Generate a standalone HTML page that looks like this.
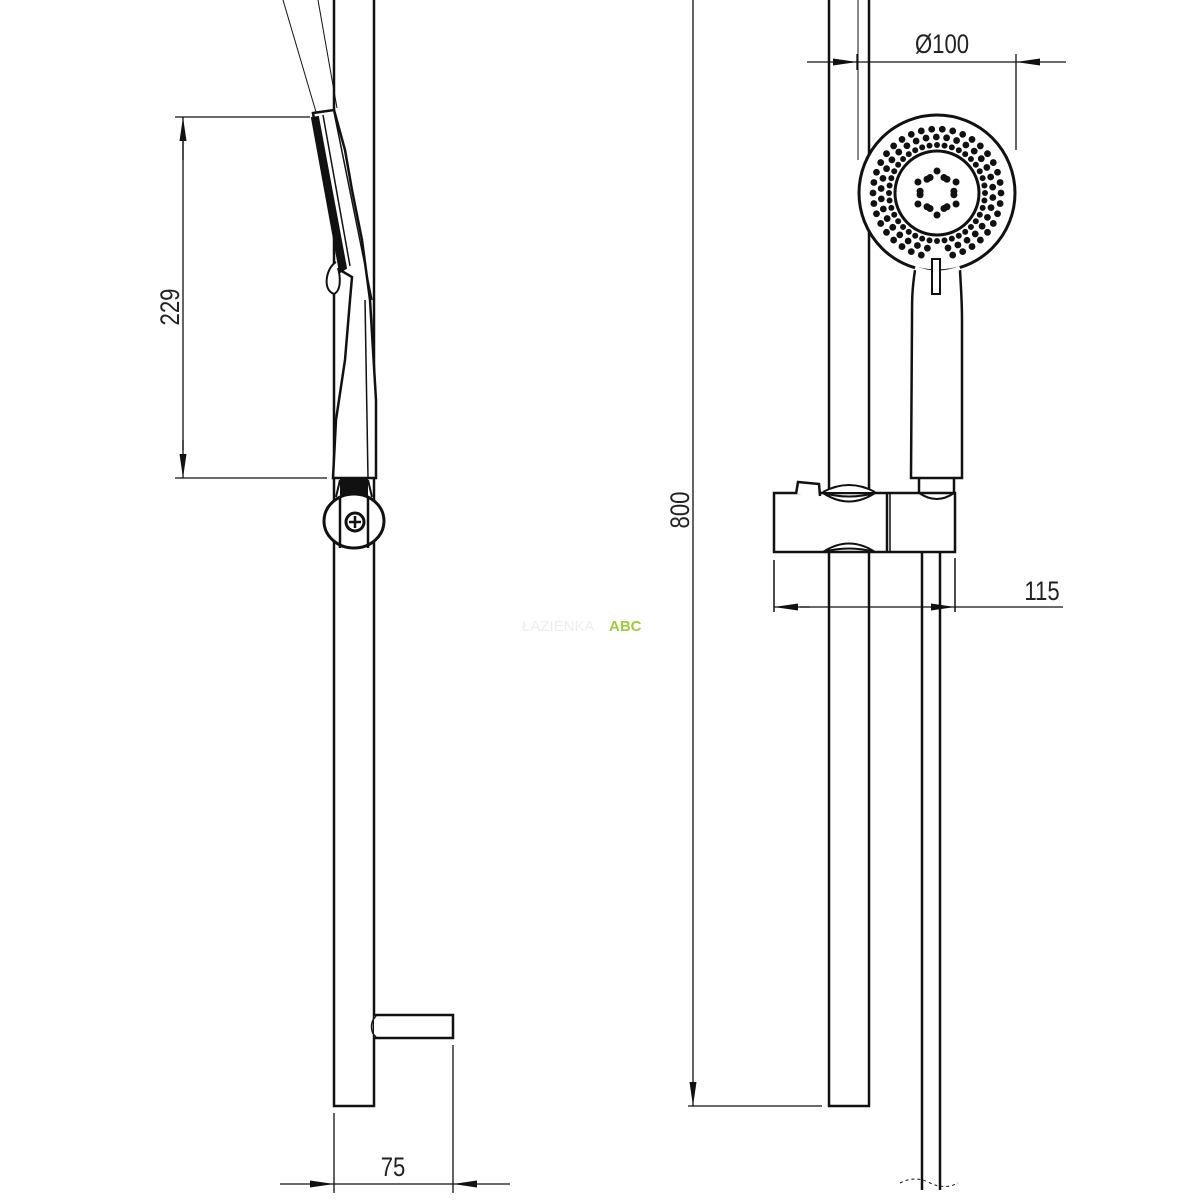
<!DOCTYPE html>
<html><head><meta charset="utf-8"><style>
html,body{margin:0;padding:0;background:#fff;width:1200px;height:1200px;overflow:hidden}
text{font-family:"Liberation Sans Narrow","Liberation Sans",sans-serif;fill:#222}
</style></head><body>
<svg id="s" width="1200" height="1200" viewBox="0 0 1200 1200" xmlns="http://www.w3.org/2000/svg">
<defs>
<marker id="a" viewBox="0 0 24 8" refX="24" refY="4" markerWidth="24" markerHeight="8" markerUnits="userSpaceOnUse" orient="auto"><path d="M0,0.5 L24,4 L0,7.5z" fill="#111"/></marker>
</defs>
<g fill="none" stroke="#111" stroke-width="2.5">
<line x1="283" y1="0" x2="316" y2="112" stroke-width="1"/>
<line x1="318" y1="0" x2="337" y2="108" stroke-width="1"/>
<rect x="334" y="-5" width="40" height="1111"/>
<path d="M313,113 L334,110 L345,150 L352,190 L362,240 L370,300 L376,400 L376,478 L333,478 L336,420 L345,360 L350,300 L352,277 L340,270 Z" fill="#fff"/>
<path d="M312,118 L318,117 L346,268 L340,272 Z" fill="#111" stroke-width="2"/>
<line x1="323" y1="115" x2="350" y2="266" stroke-width="1.5"/>
<line x1="334" y1="112" x2="372" y2="300" stroke-width="1.5"/>
<line x1="365" y1="300" x2="368" y2="478" stroke-width="1.5"/>
<path d="M336,262 C326,268 322,290 334,294 C342,290 340,275 338,268" stroke-width="2" fill="#fff"/>
<rect x="340" y="479" width="28" height="18" fill="#111" stroke="none"/>
<path d="M336,497 L340,480 M372,497 L368,480" stroke-width="2"/>
<ellipse cx="354" cy="521" rx="30" ry="27" fill="#fff" stroke-width="3"/>
<line x1="340" y1="497" x2="340" y2="548"/><line x1="368" y1="497" x2="368" y2="548"/>
<circle cx="355" cy="522" r="9" stroke-width="3"/>
<path d="M349,522 h12 M355,516 v12" stroke-width="2.5"/>
<path d="M374,1015 L453,1015 L453,1038 L374,1038" fill="#fff"/>
<path d="M376,1016 C370,1022 370,1032 376,1037" stroke-width="1.5"/>
<rect x="829" y="-5" width="40" height="1111"/>
<line x1="858" y1="0" x2="858" y2="160" stroke-width="1"/>
<line x1="922" y1="548" x2="922" y2="1190"/><line x1="940" y1="548" x2="940" y2="1190"/>
<path d="M900,1183 Q915,1175 930,1183 Q945,1190 958,1183" stroke-width="1" stroke-dasharray="3,3"/>
<path d="M915,270 C912,290 912,300 912,320 L911,478 L962,478 L962,320 C962,300 961,290 960,270" fill="#fff"/>
<circle cx="937" cy="193" r="78" fill="#fff" stroke-width="3"/>
<path d="M915,268 Q937,277 960,268" stroke="#fff" stroke-width="4"/>
<rect x="932" y="259" width="8" height="35" fill="#fff" stroke-width="2"/>
<path d="M919,478 L919,500 M954,478 L954,500" />
<rect x="774" y="493" width="181" height="59" fill="#fff"/>
<line x1="887" y1="493" x2="887" y2="552"/><line x1="890" y1="493" x2="890" y2="552" stroke-width="1.5"/>
<path d="M796,494 L798,482 L819,484 L820,496" fill="#fff"/>
<path d="M823,492 Q849,478 875,492" fill="#fff" stroke-width="2"/>
<path d="M823,493 Q849,510 875,493 Q849,500 823,493Z" fill="#fff" stroke-width="2"/>
<path d="M823,552 Q849,535 875,552 Q849,545 823,552Z" fill="#fff" stroke-width="2"/>
<path d="M919,493 Q937,505 954,493" stroke-width="2"/>
<line x1="774" y1="560" x2="774" y2="612" stroke-width="1.5"/>
<line x1="955" y1="558" x2="955" y2="612" stroke-width="1.5"/>
</g>
<g id="dots" fill="#111"></g>
<g fill="none" stroke="#111" stroke-width="1.3">
<line x1="175" y1="117" x2="310" y2="117"/>
<line x1="175" y1="478" x2="327" y2="478"/>
<line x1="183" y1="160" x2="183" y2="117" marker-end="url(#a)"/>
<line x1="183" y1="440" x2="183" y2="478" marker-end="url(#a)"/>
<line x1="183" y1="140" x2="183" y2="450"/>
<line x1="334" y1="1113" x2="334" y2="1193"/>
<line x1="453" y1="1045" x2="453" y2="1193"/>
<line x1="280" y1="1184" x2="334" y2="1184" marker-end="url(#a)"/>
<line x1="510" y1="1184" x2="453" y2="1184" marker-end="url(#a)"/>
<line x1="334" y1="1184" x2="453" y2="1184"/>
<line x1="693" y1="0" x2="693" y2="1106" marker-end="url(#a)"/>
<line x1="688" y1="1106" x2="822" y2="1106"/>
<line x1="1016" y1="54" x2="1016" y2="150"/>
<line x1="857" y1="54" x2="857" y2="70"/>
<line x1="807" y1="62" x2="857" y2="62" marker-end="url(#a)"/>
<line x1="1066" y1="62" x2="1016" y2="62" marker-end="url(#a)"/>
<line x1="857" y1="62" x2="1016" y2="62"/>
<line x1="810" y1="607" x2="774" y2="607" marker-end="url(#a)"/>
<line x1="800" y1="607" x2="955" y2="607" marker-end="url(#a)"/>
<line x1="955" y1="607" x2="1063" y2="607"/>
</g>
<g font-size="27">
<text transform="translate(393,1176) scale(0.82,1)" text-anchor="middle">75</text>
<text transform="translate(942,53) scale(0.82,1)" text-anchor="middle">Ø100</text>
<text transform="translate(1042,600) scale(0.82,1)" text-anchor="middle">115</text>
<text transform="translate(179,307) rotate(-90) scale(0.82,1)" text-anchor="middle">229</text>
<text transform="translate(689,510) rotate(-90) scale(0.82,1)" text-anchor="middle">800</text>
</g>
<text x="522" y="631" font-size="15" style="fill:#eee">ŁAZIENKA</text>
<text x="609" y="631" font-size="15" font-weight="bold" style="fill:#9ccc3a">ABC</text>
</svg>
<script>
var g=document.getElementById('dots'),ns='http://www.w3.org/2000/svg',cx=937,cy=193;
function d(x,y,r){var c=document.createElementNS(ns,'circle');c.setAttribute('cx',x);c.setAttribute('cy',y);c.setAttribute('r',r);g.appendChild(c);}
[[64,38,3.4],[56,34,3.4],[48,40,3]].forEach(function(a){for(var i=0;i<a[1];i++){var t=i/a[1]*2*Math.PI+(a[0]==56?0.08:0);var x=cx+a[0]*Math.cos(t),y=cy+a[0]*Math.sin(t);if(y>cy+55&&Math.abs(x-cx)<6)continue;d(x,y,a[2]);}});
for(var i=0;i<6;i++){var t=i*Math.PI/3-Math.PI/2;d(cx+22*Math.cos(t),cy+22*Math.sin(t),3.5);[-0.3,0.3].forEach(function(o){d(cx+17*Math.cos(t+o*1.4),cy+17*Math.sin(t+o*1.4),3.5);});}
var c=document.createElementNS(ns,'circle');c.setAttribute('cx',cx);c.setAttribute('cy',cy);c.setAttribute('r',42);c.setAttribute('fill','none');c.setAttribute('stroke','#111');c.setAttribute('stroke-width','3');g.appendChild(c);
</script>
</body></html>
